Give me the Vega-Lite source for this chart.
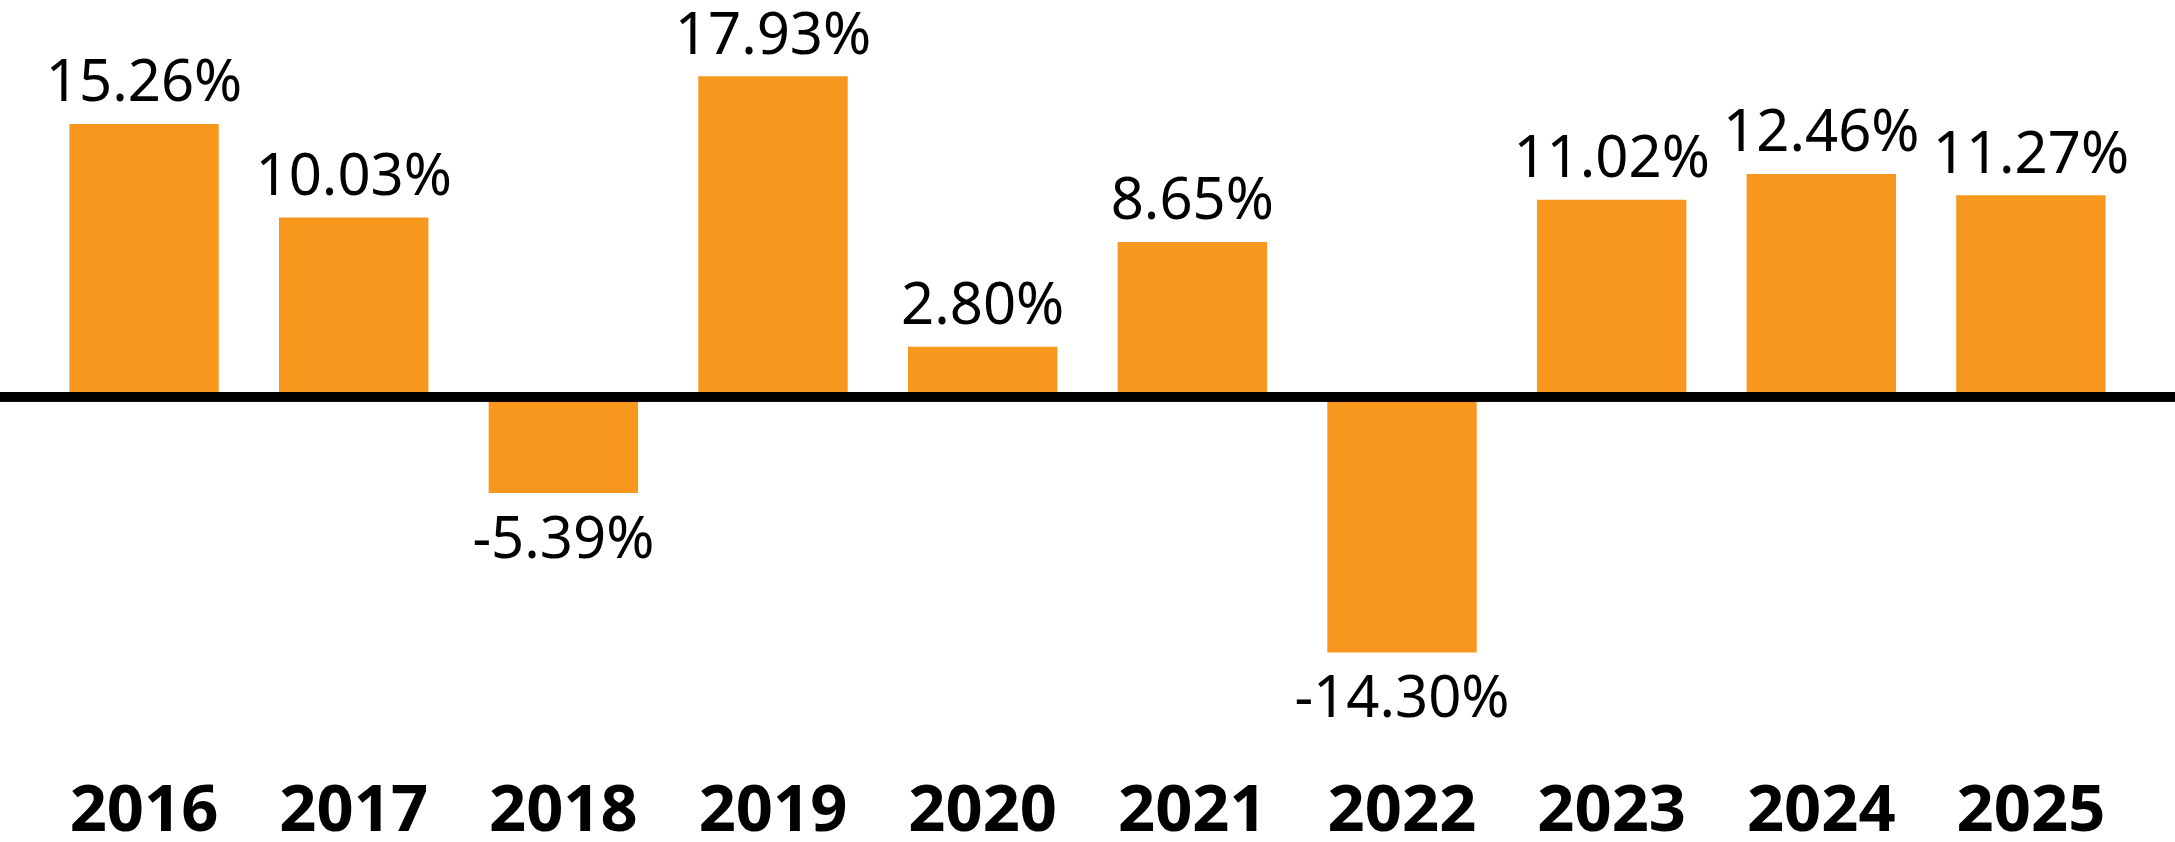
{
  "$schema": "https://vega.github.io/schema/vega-lite/v6.json",
  "width": 2175,
  "height": 742,
  "autosize": {"type": "none"},
  "padding": {"left": 0, "right": 0, "top": 0, "bottom": 100},
  "background": "white",
  "config": {"view": {"stroke": null}, "font": "Noto Sans"},
  "data": {
    "values": [
      {"year": "2016", "value": 15.26, "label": "15.26%"},
      {"year": "2017", "value": 10.03, "label": "10.03%"},
      {"year": "2018", "value": -5.39, "label": "-5.39%"},
      {"year": "2019", "value": 17.93, "label": "17.93%"},
      {"year": "2020", "value": 2.80, "label": "2.80%"},
      {"year": "2021", "value": 8.65, "label": "8.65%"},
      {"year": "2022", "value": -14.30, "label": "-14.30%"},
      {"year": "2023", "value": 11.02, "label": "11.02%"},
      {"year": "2024", "value": 12.46, "label": "12.46%"},
      {"year": "2025", "value": 11.27, "label": "11.27%"}
    ]
  },
  "layer": [
    {
      "mark": {"type": "bar", "color": "#F7971E"},
      "encoding": {
        "x": {
          "field": "year", "type": "ordinal",
          "scale": {"paddingInner": 0.2874, "paddingOuter": 0.3308},
          "axis": {
            "title": null, "domain": false, "ticks": false, "tickSize": 0, "grid": false,
            "labelFontSize": 65, "labelFontWeight": "bold", "labelColor": "black",
            "labelAngle": 0, "labelBaseline": "alphabetic", "labelPadding": 88, "labelFont": "Noto Sans"
          }
        },
        "y": {
          "field": "value", "type": "quantitative",
          "scale": {"domain": [-19.31, 22.19], "nice": false},
          "axis": null
        }
      }
    },
    {
      "transform": [{"filter": "datum.value >= 0"}],
      "mark": {"type": "text", "baseline": "alphabetic", "dy": -22.6, "fontSize": 58, "color": "black", "font": "Noto Sans"},
      "encoding": {
        "x": {"field": "year", "type": "ordinal"},
        "y": {"field": "value", "type": "quantitative"},
        "text": {"field": "label"}
      }
    },
    {
      "transform": [{"filter": "datum.value < 0"}],
      "mark": {"type": "text", "baseline": "alphabetic", "dy": 64.6, "fontSize": 58, "color": "black", "font": "Noto Sans"},
      "encoding": {
        "x": {"field": "year", "type": "ordinal"},
        "y": {"field": "value", "type": "quantitative"},
        "text": {"field": "label"}
      }
    },
    {
      "mark": {"type": "rule", "color": "black", "strokeWidth": 9},
      "encoding": {"y": {"datum": 0}}
    }
  ]
}
